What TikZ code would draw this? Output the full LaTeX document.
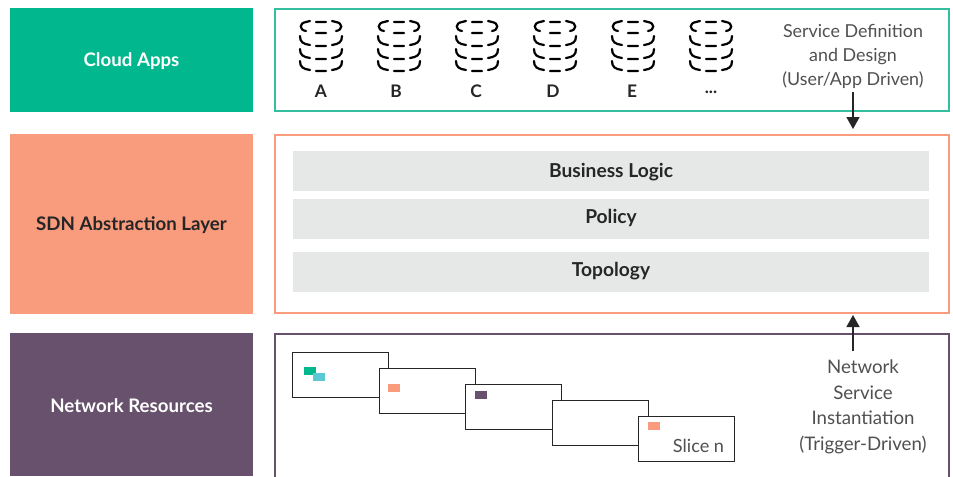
\documentclass[tikz,border=0pt]{standalone}
\usepackage{fontspec}
\setmainfont{Lato}
\usepackage{xcolor}
\definecolor{cloudgreen}{HTML}{01B88E}
\definecolor{frameGreen}{HTML}{35BDA0}
\definecolor{sdnorange}{HTML}{F99B7D}
\definecolor{netpurple}{HTML}{67516C}
\definecolor{barGray}{HTML}{E6E8E7}
\definecolor{tealchip}{HTML}{5BC8D2}
\definecolor{textgray}{HTML}{505050}
\newcommand{\pxu}{0.75pt}
\usetikzlibrary{arrows.meta}
\tikzset{
   layerbox/.style={minimum width=243*\pxu, text=white, font=\fontsize{14}{16}\selectfont\bfseries, inner sep=0pt,
      text height=9pt, text depth=0pt},
   framebox/.style={draw=#1, line width=1.7*\pxu, fill=white, minimum width=674*\pxu, inner sep=0pt},
   barbox/.style={fill=barGray, minimum width=636*\pxu, minimum height=40*\pxu, inner sep=0pt, text=black!85,
      font=\fontsize{14.4}{16}\selectfont\bfseries, text height=9pt, text depth=#1},
   slicebox/.style={draw=black!85, line width=1.4*\pxu, fill=white, minimum width=96*\pxu, minimum height=45*\pxu, inner sep=0pt},
   chip/.style={fill=#1, minimum width=12*\pxu, minimum height=8*\pxu, inner sep=0pt},
   notetext/.style={align=center, text=textgray},
   dblabel/.style={text=black!85, font=\fontsize{13}{15}\selectfont\bfseries, inner sep=0pt},
   link/.style={draw=black!85, line width=1.5*\pxu, -{Triangle[length=12*\pxu,width=13*\pxu]}},
   dbicon/.pic={
      \draw[line width=2.2*\pxu, line cap=round, black]
         (-15,-25) -- (-11,-26) (-5,-25) -- (5,-25) (-5,-14) -- (5,-14)
         (11,-26) -- (15,-25) .. controls (22,-24) and (22,-17) .. (15,-16)
         (-15,-25) .. controls (-22,-24) and (-22,-17) .. (-15,-16);
      \foreach \lay in {0,13,25} {
         \draw[line width=2.2*\pxu, line cap=round, black]
            (-21,-11+\lay) .. controls (-21,-5+\lay) and (-18,-3+\lay) .. (-11,-2+\lay)
            (-5,-1+\lay) -- (5,-1+\lay)
            (21,-11+\lay) .. controls (21,-5+\lay) and (18,-3+\lay) .. (11,-2+\lay);
      }
   }
}
\begin{document}
\begin{tikzpicture}[x=\pxu, y=-\pxu]
   \useasboundingbox (0,0) rectangle (953,476);
   % left column
   \node[layerbox, fill=cloudgreen, minimum height=104*\pxu] (apps) at (131.5,60) {Cloud Apps};
   \node[layerbox, fill=sdnorange, minimum height=180*\pxu, text=black!85] (sdn) at (131.5,224) {SDN Abstraction Layer};
   \node[layerbox, fill=netpurple, minimum height=143*\pxu, text height=12pt] (net) at (131.5,404.5) {Network Resources};
   % right frames
   \node[framebox=frameGreen, minimum height=102*\pxu] (appsframe) at (612,60) {};
   \node[framebox=sdnorange, minimum height=178*\pxu] (sdnframe) at (612,224) {};
   \node[framebox=netpurple, minimum height=150*\pxu] (netframe) at (612,409) {};
   % bars
   \node[barbox=-1.5pt] (logic) at (611,171) {Business Logic};
   \node[barbox=3pt] (policy) at (611,219) {Policy};
   \node[barbox=3pt] (topology) at (611,272) {Topology};
   % databases
   \foreach \name/\xx/\lx/\lab in {a/321/321/A, b/399/396/B, c/477/476/C, d/555/553/D, e/633/632/E} {
      \pic at (\xx,47) {dbicon};
      \node[dblabel] (db\name) at (\lx,91) {\lab};
   }
   \pic at (711,47) {dbicon};
   \node[dblabel] (dbf) at (711,92) {...};
   % slices
   \foreach \name/\xx/\yy in {one/340.5/375, two/427.5/391, three/513.5/407, four/600.5/423, five/686.5/439} {
      \node[slicebox] (\name) at (\xx,\yy) {};
   }
   \node[chip=cloudgreen] (chipa) at (310,371) {};
   \node[chip=tealchip] (chipb) at (319,377) {};
   \node[chip=sdnorange] (chipc) at (394,388) {};
   \node[chip=netpurple] (chipd) at (481,395) {};
   \node[chip=sdnorange] (chipe) at (654,426) {};
   \node[text=textgray, font=\fontsize{13.6}{16}\selectfont, inner sep=0pt] (slicen) at (698.5,446) {Slice n};
   % notes and arrows
   \node[notetext, font=\fontsize{13.4}{18}\selectfont] (design) at (853,56) {Service Definition\\and Design\\(User/App Driven)};
   \node[notetext, font=\fontsize{14}{19.2}\selectfont] (instance) at (863,407) {Network\\Service\\Instantiation\\(Trigger-Driven)};
   \coordinate (designstart) at (853,92);
   \coordinate (designend) at (853,129);
   \coordinate (instancestart) at (853,351);
   \coordinate (instanceend) at (853,315);
   \draw[link] (designstart) -- (designend);
   \draw[link] (instancestart) -- (instanceend);
\end{tikzpicture}
\end{document}
